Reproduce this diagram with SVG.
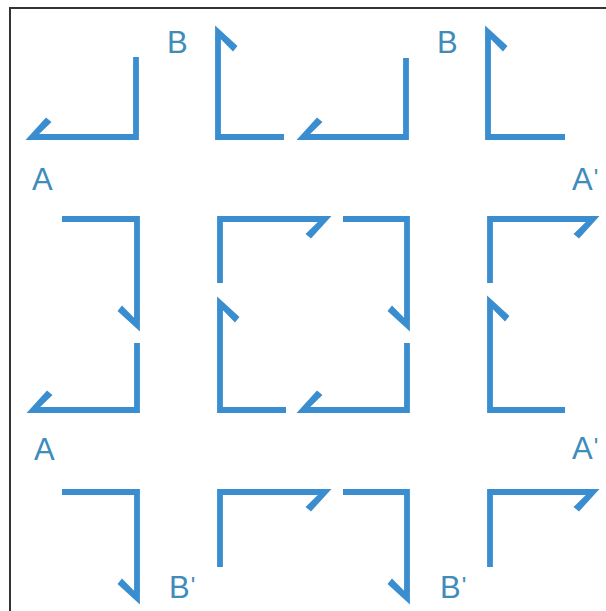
<svg xmlns="http://www.w3.org/2000/svg" width="606" height="611" viewBox="0 0 606 611">
<style>
.sh{fill:none;stroke:#3a8ed0;stroke-width:5.8;stroke-linejoin:miter;stroke-linecap:butt}
.hd{fill:#3a8ed0}
.lb{font-family:"Liberation Sans",Arial,sans-serif;font-size:31px;fill:#3f8cba}
.fr{stroke:#333;stroke-width:2;fill:none}
</style>
<defs>
<polygon id="h" points="1.5,-2.9 -19,19.5 -24.5,15 -12.2,2.9 -13,2.9 -13,-2.9"/>
</defs>
<rect width="606" height="611" fill="#fff"/>
<g id="frame"><path class="fr" d="M9,8 H606 M10,8 V611"/></g>
<g id="connectors">
<g id="a1"><polyline class="sh" points="136,57 136,137 38,137"/><use href="#h" class="hd" transform="matrix(-1 0 0 -1 27 137)"/></g>
<g id="a2"><polyline class="sh" points="284,137 218,137 218,38"/><use href="#h" class="hd" transform="matrix(0 -1 1 0 218 27)"/></g>
<g id="a3"><polyline class="sh" points="406,58 406,137 309,137"/><use href="#h" class="hd" transform="matrix(-1 0 0 -1 298 137)"/></g>
<g id="a4"><polyline class="sh" points="565,137 488,137 488,38"/><use href="#h" class="hd" transform="matrix(0 -1 1 0 488 27)"/></g>
<g id="a5"><polyline class="sh" points="62,219 137,219 137,319"/><use href="#h" class="hd" transform="matrix(0 1 -1 0 137 330)"/></g>
<g id="a6"><polyline class="sh" points="137,343 137,410 39,410"/><use href="#h" class="hd" transform="matrix(-1 0 0 -1 28 410)"/></g>
<g id="a7"><polyline class="sh" points="220,283 220,219 319,219"/><use href="#h" class="hd" transform="matrix(1 0 0 1 330 219)"/></g>
<g id="a8"><polyline class="sh" points="286,410 220,410 220,309"/><use href="#h" class="hd" transform="matrix(0 -1 1 0 220 298)"/></g>
<g id="a9"><polyline class="sh" points="343,219 407,219 407,319"/><use href="#h" class="hd" transform="matrix(0 1 -1 0 407 330)"/></g>
<g id="a10"><polyline class="sh" points="407,343 407,410 309,410"/><use href="#h" class="hd" transform="matrix(-1 0 0 -1 298 410)"/></g>
<g id="a11"><polyline class="sh" points="490,283 490,219 587,219"/><use href="#h" class="hd" transform="matrix(1 0 0 1 598 219)"/></g>
<g id="a12"><polyline class="sh" points="565,410 490,410 490,308"/><use href="#h" class="hd" transform="matrix(0 -1 1 0 490 297)"/></g>
<g id="a13"><polyline class="sh" points="62,492 137,492 137,592"/><use href="#h" class="hd" transform="matrix(0 1 -1 0 137 603)"/></g>
<g id="a14"><polyline class="sh" points="220,567 220,492 319,492"/><use href="#h" class="hd" transform="matrix(1 0 0 1 330 492)"/></g>
<g id="a15"><polyline class="sh" points="343,492 407,492 407,592"/><use href="#h" class="hd" transform="matrix(0 1 -1 0 407 603)"/></g>
<g id="a16"><polyline class="sh" points="490,567 490,492 587,492"/><use href="#h" class="hd" transform="matrix(1 0 0 1 598 492)"/></g>
</g>
<g id="labels">
<text class="lb" x="167" y="53">B</text>
<text class="lb" x="437" y="53">B</text>
<text class="lb" x="32" y="190">A</text>
<text class="lb" x="572" y="190">A<tspan dx="1" dy="-4" font-size="24">'</tspan></text>
<text class="lb" x="34" y="460">A</text>
<text class="lb" x="572" y="459">A<tspan dx="1" dy="-4" font-size="24">'</tspan></text>
<text class="lb" x="169" y="598">B<tspan dx="1" dy="-4" font-size="24">'</tspan></text>
<text class="lb" x="440" y="598">B<tspan dx="1" dy="-4" font-size="24">'</tspan></text>
</g>
</svg>
